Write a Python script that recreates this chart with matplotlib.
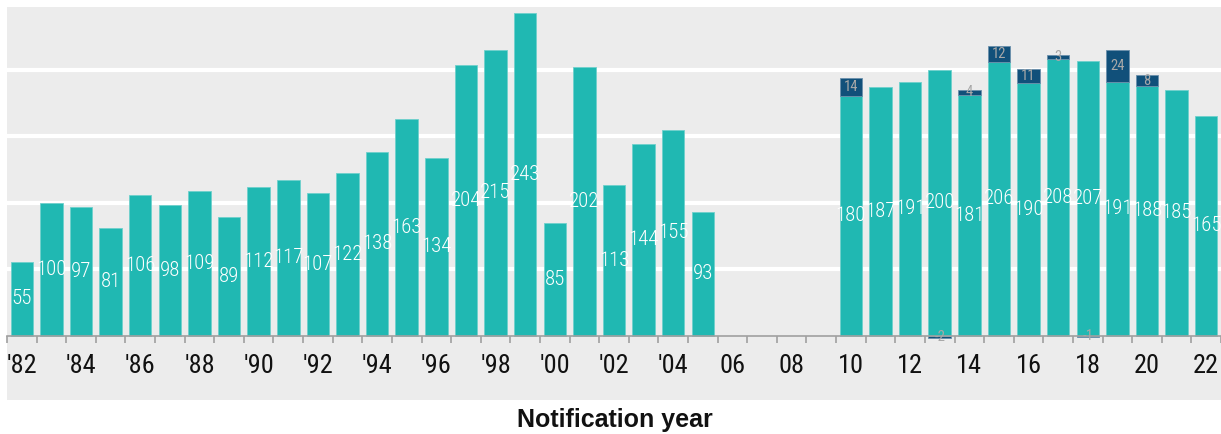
import matplotlib
matplotlib.use("Agg")
import matplotlib.pyplot as plt
from matplotlib.patches import Rectangle
import numpy as np

# Notification years and counts
years = list(range(1982, 2023))
main_counts = [55, 100, 97, 81, 106, 98, 109, 89, 112, 117, 107, 122, 138, 163, 134,
               204, 215, 243, 85, 202, 113, 144, 155, 93, None, None, None, None,
               180, 187, 191, 200, 181, 206, 190, 208, 207, 191, 188, 185, 165]
# Adjustments stacked on the main counts (negative values drawn below zero)
adjust_years = [2010, 2013, 2014, 2015, 2016, 2017, 2018, 2019, 2020]
adjust_counts = [14, -2, 4, 12, 11, 3, -1, 24, 8]
tick_labels = ["'82", "'84", "'86", "'88", "'90", "'92", "'94", "'96", "'98", "'00",
               "'02", "'04", "06", "08", "10", "12", "14", "16", "18", "20", "22"]
axis_title = "Notification year"

TEAL = "#20b8b2"
NAVY = "#11507a"
PANEL = "#ececec"
COND = ["Roboto Condensed", "DejaVu Sans"]
TITLE_FONT = ["Liberation Sans", "DejaVu Sans"]

W, H = 1221, 434
fig = plt.figure(figsize=(W / 100, H / 100), dpi=100)
fig.patch.set_facecolor("white")

# grey panel behind plot area and tick labels
fig.patches.append(Rectangle((7 / W, (H - 400) / H), (W - 7) / W, 393 / H,
                             transform=fig.transFigure, facecolor=PANEL,
                             edgecolor="none", zorder=-5))

zero_px = 335.5
top_px = 7
ax = fig.add_axes([7 / W, (H - zero_px) / H, (W - 7) / W, (zero_px - top_px) / H])
ax.set_facecolor("none")

px_per_unit = 1.328
cat_px = 29.7
ax.set_ylim(0, (zero_px - top_px) / px_per_unit)
ax.set_xlim(-0.5, -0.5 + (W - 7) / cat_px)

xpos = np.arange(len(years))
width = 0.76

for yv in [50, 100, 150, 200]:
    ax.axhline(yv, color="white", lw=3, zorder=1)

main_vals = {}
for x, v in zip(xpos, main_counts):
    if v is None:
        continue
    main_vals[x] = v
    ax.bar(x, v, width=width, color=TEAL, edgecolor="#6fd0cc", linewidth=0.6,
           zorder=2, clip_on=False)
    ax.text(x, v / 2, str(v), color="white", ha="center", va="center",
            fontsize=15, fontweight="light", family=COND, zorder=5, clip_on=False)

for yr, v in zip(adjust_years, adjust_counts):
    x = years.index(yr)
    base = main_vals[x] if v > 0 else 0
    ax.bar(x, v, bottom=base, width=width, color=NAVY, edgecolor="#6a8fab",
           linewidth=0.6, zorder=3, clip_on=False)
    ax.text(x, base + v / 2, str(v), color="#a8a8a8", ha="center", va="center",
            fontsize=10.5, family=COND, zorder=6, clip_on=False)

for s in ["top", "right", "left"]:
    ax.spines[s].set_visible(False)
ax.spines["bottom"].set_color("#a0a0a0")
ax.spines["bottom"].set_linewidth(1.2)
ax.spines["bottom"].set_zorder(4)

ax.set_yticks([])
ax.set_xticks(xpos[::2])
ax.set_xticklabels(tick_labels, family=COND, fontsize=19, color="#111111")
ax.set_xticks(np.arange(-0.5, len(years) + 0.5, 1), minor=True)
ax.tick_params(axis="x", which="major", length=0, pad=13.5)
ax.tick_params(axis="x", which="minor", length=5, width=1.2, color="#a0a0a0")

fig.text(615 / W, (H - 427.3) / H, axis_title, ha="center", va="baseline",
         fontsize=18, fontweight="bold", family=TITLE_FONT, color="#111111")

fig.savefig("out.png", dpi=100)
